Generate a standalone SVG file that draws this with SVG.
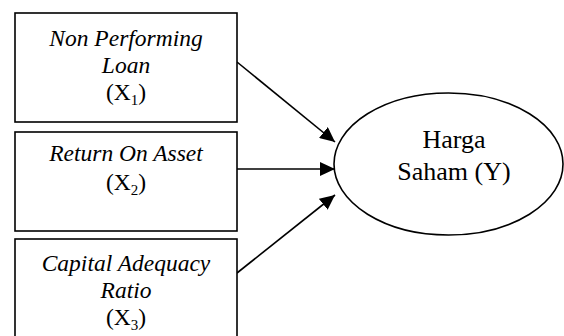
<svg xmlns="http://www.w3.org/2000/svg" width="564" height="336" viewBox="0 0 564 336">
<style>
.box{fill:#fff;stroke:#000;stroke-width:1.6}
.t{font-family:"Liberation Serif","Times New Roman",serif;font-size:23.5px;fill:#000;text-anchor:middle}
.i{font-style:italic}
.y{font-size:26px}
.sub{font-size:15px}
.c{stroke:#000;stroke-width:1.6;fill:none}
</style>
<defs>
<marker id="ah" markerUnits="userSpaceOnUse" markerWidth="16" markerHeight="14" refX="15" refY="7" orient="auto">
<path d="M0,0 L15,7 L0,14 Z" fill="#000"/>
</marker>
</defs>
<rect width="564" height="336" fill="#fff"/>
<g id="connectors">
<line class="c" x1="237" y1="62" x2="335" y2="142" marker-end="url(#ah)"/>
<line class="c" x1="237" y1="169" x2="335" y2="169" marker-end="url(#ah)"/>
<line class="c" x1="237" y1="273" x2="335" y2="195" marker-end="url(#ah)"/>
</g>
<g id="npl">
<rect class="box" x="15" y="13" width="222" height="109"/>
<text class="t i" x="126" y="46">Non Performing</text>
<text class="t i" x="126" y="73">Loan</text>
<text class="t" x="126" y="100">(X<tspan class="sub" dy="5">1</tspan><tspan dy="-5">)</tspan></text>
</g>
<g id="roa">
<rect class="box" x="15" y="132" width="222" height="99"/>
<text class="t i" x="126" y="161">Return On Asset</text>
<text class="t" x="126" y="190">(X<tspan class="sub" dy="5">2</tspan><tspan dy="-5">)</tspan></text>
</g>
<g id="car">
<rect class="box" x="15" y="239" width="222" height="110"/>
<text class="t i" x="126" y="271">Capital Adequacy</text>
<text class="t i" x="126" y="298">Ratio</text>
<text class="t" x="126" y="325">(X<tspan class="sub" dy="5">3</tspan><tspan dy="-5">)</tspan></text>
</g>
<g id="harga">
<ellipse class="box" cx="448.5" cy="164" rx="114.5" ry="71"/>
<text class="t y" x="454" y="148">Harga</text>
<text class="t y" x="454" y="180">Saham (Y)</text>
</g>
</svg>
